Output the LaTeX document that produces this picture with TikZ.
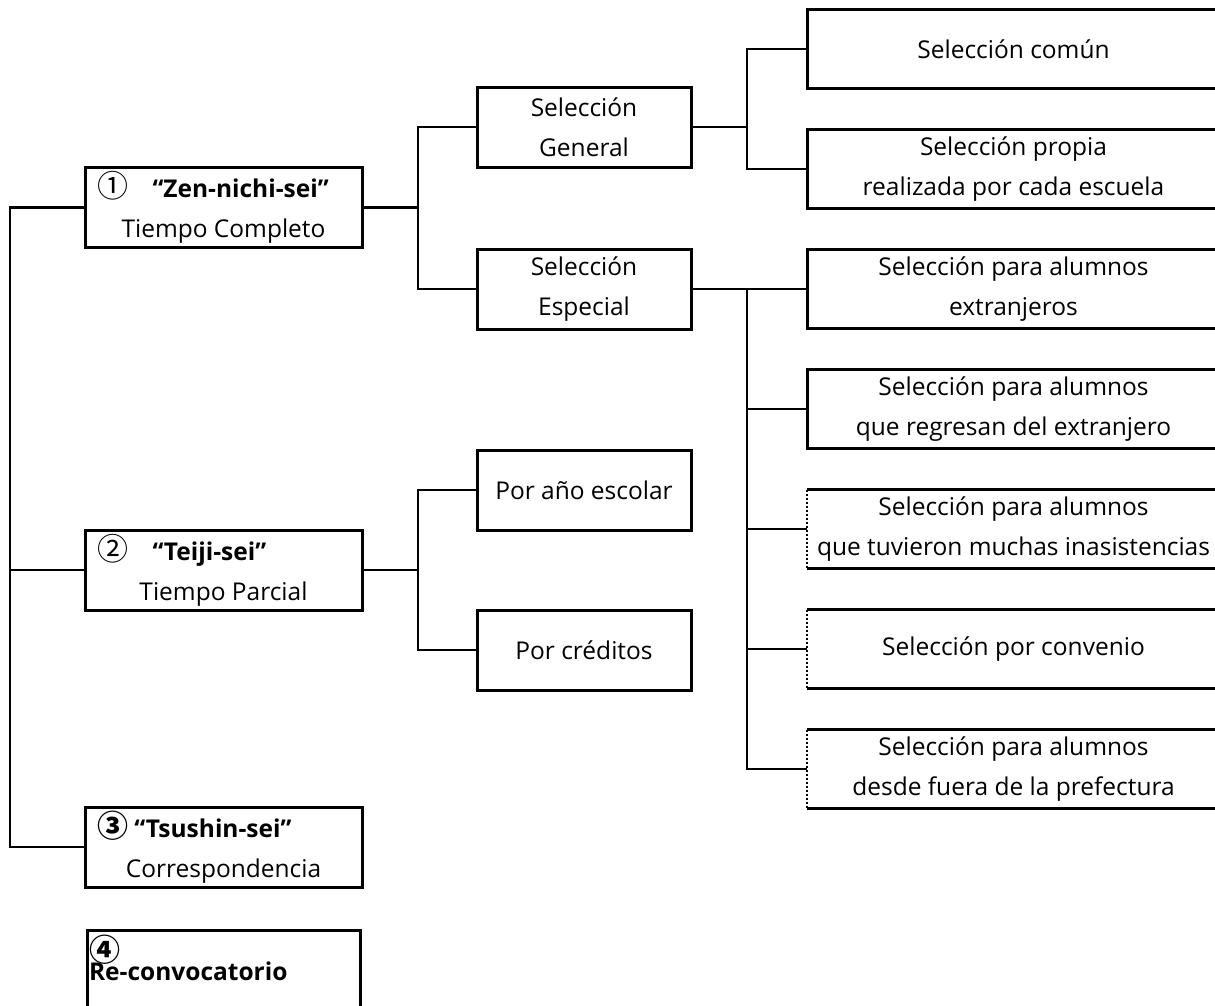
\documentclass[tikz,border=0pt]{standalone}
\usepackage{fontspec}
\setmainfont{Open Sans}
\newfontfamily\cjk{Noto Sans CJK JP}
\usetikzlibrary{positioning, calc}

\newcommand{\digit}[1]{{\cjk\fontsize{31}{40}\selectfont #1}}

\tikzset{
    course/.style={draw, line width=3pt, minimum width=277pt, minimum height=80pt, align=center, inner sep=0pt},
    route/.style={course, minimum width=214pt},
    option/.style={minimum width=413pt, minimum height=79pt, align=center, inner sep=0pt, outer sep=0pt},
    link/.style={line width=2.2pt},
    rim/.style={line width=3pt},
    dotrim/.style={line width=1.2pt, dash pattern=on 2.5pt off 1.5pt},
}

\begin{document}
\begin{tikzpicture}[x=1pt, y=-1pt, font=\fontsize{24.5}{40}\selectfont]
    \useasboundingbox (0,0) rectangle (1215,1005);
    \clip (0,0) rectangle (1215,1005);

    \node[course] (zen) at (223.5,207.5) {\makebox[253pt][l]{\digit{①}\quad\textbf{“Zen-nichi-sei”}}\\Tiempo Completo};
    \node[course] (teiji) at (223.5,570) {\makebox[253pt][l]{\digit{②}\quad\textbf{“Teiji-sei”}}\\Tiempo Parcial};
    \node[course] (tsushin) at (223.5,847) {\makebox[253pt][l]{\digit{\bfseries ③}\ \textbf{“Tsushin-sei”}}\\Correspondencia};
    \node[draw, line width=3pt, inner sep=2pt, anchor=north] (recon) at (223.5,928.5) {\parbox[b][80pt][t]{269pt}{\raisebox{-3pt}[\height][\depth]{\digit{\bfseries ④}}\\[-18pt]\textbf{Re-convocatorio}}};

    \node[route] (gen) at (584,127) {Selección\\General};
    \node[route] (esp) at (584,289) {Selección\\Especial};
    \node[route] (anual) at (584,490) {Por año escolar};
    \node[route] (cred) at (584,650) {Por créditos};

    \node[option] (comun) at (1013.5,49) {Selección común};
    \node[option, below=41pt of comun] (propia) {Selección propia\\realizada por cada escuela};
    \node[option, below=41pt of propia] (extr) {Selección para alumnos\\extranjeros};
    \node[option, below=41pt of extr] (regr) {Selección para alumnos\\que regresan del extranjero};
    \node[option, below=41pt of regr] (inas) {Selección para alumnos\\que tuvieron muchas inasistencias};
    \node[option, below=41pt of inas] (conv) {Selección por convenio};
    \node[option, below=41pt of conv] (pref) {Selección para alumnos\\desde fuera de la prefectura};

    \foreach \n in {comun, propia, extr, regr}
        \draw[rim] (\n.north east) -- (\n.north west) -- (\n.south west) -- (\n.south east);
    \foreach \n in {inas, conv, pref} {
        \draw[rim] (\n.north west) -- (\n.north east) (\n.south west) -- (\n.south east);
        \draw[dotrim] (\n.north west) -- (\n.south west);
    }

    \coordinate (ja) at (10,0);
    \coordinate (jb) at (418,0);
    \coordinate (jc) at (747,0);

    \draw[link]
        (zen.west) -- (zen.west -| ja) |- (tsushin.west)
        (teiji.west) -- (teiji.west -| ja)
        (zen.east) -- (zen.east -| jb)
        (gen.west) -- (gen.west -| jb) |- (esp.west)
        (teiji.east) -- (teiji.east -| jb)
        (anual.west) -- (anual.west -| jb) |- (cred.west)
        (gen.east) -- (gen.east -| jc)
        (comun.west) -- (comun.west -| jc) |- (propia.west)
        (esp.east) -- (extr.west)
        (esp.east -| jc) |- (pref.west)
        (regr.west) -- (regr.west -| jc)
        (inas.west) -- (inas.west -| jc)
        (conv.west) -- (conv.west -| jc)
        ;
\end{tikzpicture}
\end{document}
